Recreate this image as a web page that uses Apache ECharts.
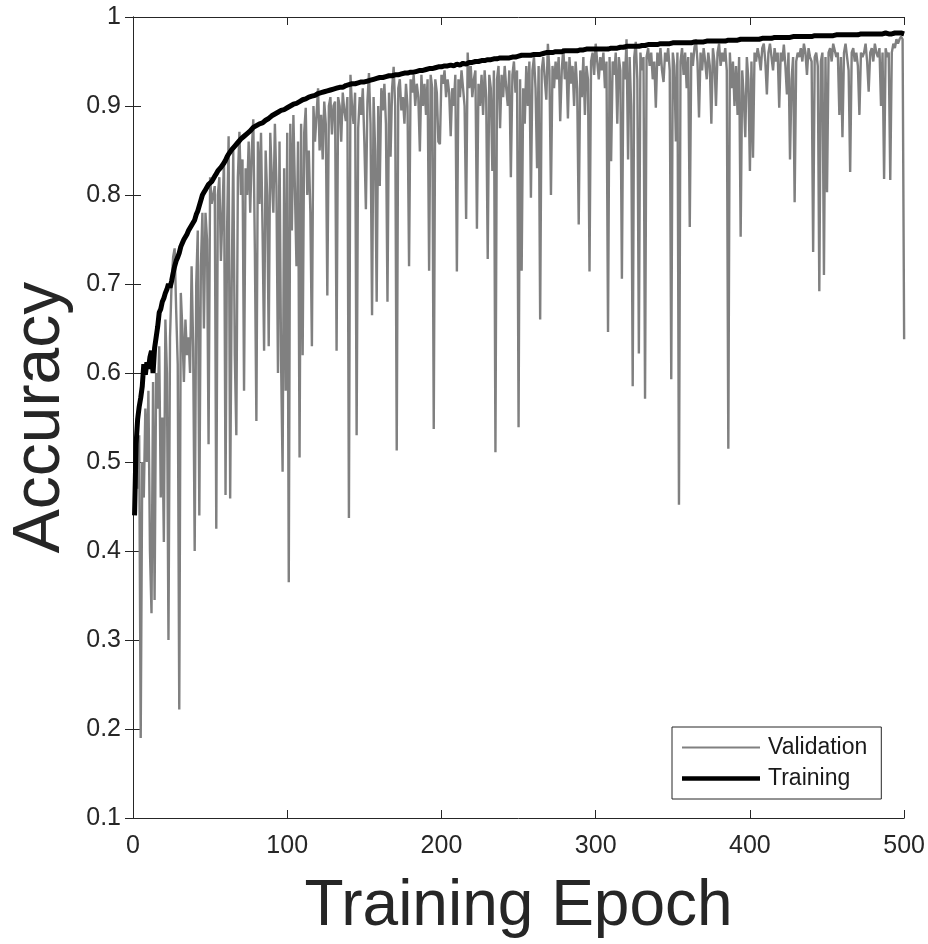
<!DOCTYPE html>
<html>
<head>
<meta charset="utf-8">
<script src="https://cdn.jsdelivr.net/npm/echarts@6/dist/echarts.min.js"></script>
<style>html,body{margin:0;padding:0;background:#fff;}#c{width:928px;height:944px;}</style>
</head>
<body>
<div id="c"></div>
<script>
// Tick labels
const xTicks = [0, 100, 200, 300, 400, 500];
const yTicks = [0.1, 0.2, 0.3, 0.4, 0.5, 0.6, 0.7, 0.8, 0.9, 1];
const seriesNames = ['Validation', 'Training'];

// Validation accuracy per epoch (1..500)
const validation = [
0.450,0.500,0.470,0.530,0.190,0.500,0.460,0.560,0.500,0.580,
0.400,0.330,0.590,0.345,0.600,0.560,0.630,0.460,0.550,0.410,
0.660,0.600,0.300,0.640,0.700,0.730,0.740,0.670,0.610,0.222,
0.690,0.650,0.590,0.660,0.620,0.640,0.600,0.720,0.630,0.400,
0.700,0.760,0.440,0.720,0.780,0.650,0.780,0.750,0.520,0.820,
0.790,0.800,0.810,0.425,0.800,0.820,0.726,0.780,0.840,0.463,
0.760,0.866,0.459,0.700,0.850,0.620,0.530,0.820,0.871,0.800,
0.840,0.580,0.830,0.800,0.860,0.780,0.850,0.885,0.740,0.546,
0.860,0.790,0.870,0.760,0.625,0.850,0.800,0.630,0.870,0.820,
0.780,0.880,0.810,0.600,0.860,0.614,0.489,0.830,0.580,0.870,
0.365,0.880,0.760,0.890,0.890,0.720,0.860,0.505,0.880,0.620,
0.870,0.898,0.800,0.850,0.780,0.630,0.900,0.860,0.890,0.920,
0.850,0.890,0.840,0.905,0.880,0.687,0.900,0.910,0.868,0.900,
0.905,0.625,0.910,0.900,0.860,0.915,0.895,0.883,0.910,0.437,
0.935,0.900,0.880,0.915,0.530,0.875,0.910,0.890,0.920,0.860,
0.784,0.905,0.937,0.880,0.665,0.910,0.850,0.680,0.900,0.810,
0.920,0.895,0.925,0.880,0.680,0.915,0.843,0.920,0.944,0.900,
0.513,0.920,0.930,0.895,0.910,0.880,0.925,0.900,0.720,0.930,
0.915,0.935,0.900,0.925,0.910,0.849,0.935,0.900,0.925,0.890,
0.930,0.715,0.935,0.920,0.537,0.930,0.915,0.860,0.857,0.935,
0.925,0.940,0.910,0.930,0.915,0.866,0.920,0.900,0.935,0.714,
0.930,0.910,0.940,0.920,0.900,0.773,0.960,0.920,0.945,0.910,
0.930,0.940,0.762,0.925,0.900,0.935,0.890,0.940,0.910,0.728,
0.935,0.920,0.827,0.940,0.511,0.930,0.945,0.875,0.935,0.910,
0.945,0.920,0.900,0.940,0.820,0.935,0.950,0.915,0.940,0.539,
0.930,0.715,0.920,0.880,0.945,0.900,0.950,0.797,0.940,0.955,
0.920,0.830,0.945,0.660,0.940,0.955,0.930,0.907,0.970,0.940,
0.800,0.945,0.920,0.950,0.930,0.955,0.883,0.940,0.965,0.930,
0.950,0.886,0.955,0.925,0.945,0.900,0.950,0.920,0.767,0.940,
0.910,0.955,0.890,0.945,0.930,0.714,0.950,0.960,0.935,0.970,
0.950,0.930,0.955,0.940,0.960,0.920,0.950,0.646,0.955,0.838,
0.950,0.935,0.960,0.880,0.955,0.940,0.706,0.950,0.930,0.975,
0.840,0.955,0.900,0.585,0.955,0.972,0.930,0.622,0.960,0.940,
0.955,0.571,0.955,0.965,0.945,0.960,0.930,0.950,0.898,0.960,
0.945,0.965,0.940,0.927,0.960,0.950,0.965,0.940,0.593,0.960,
0.945,0.860,0.960,0.452,0.950,0.965,0.935,0.960,0.920,0.955,
0.764,0.960,0.945,0.965,0.975,0.950,0.887,0.960,0.940,0.965,
0.950,0.930,0.960,0.945,0.880,0.965,0.950,0.900,0.960,0.970,
0.945,0.960,0.950,0.965,0.940,0.515,0.960,0.920,0.950,0.900,
0.945,0.890,0.955,0.753,0.940,0.910,0.865,0.955,0.930,0.827,
0.950,0.842,0.960,0.950,0.965,0.955,0.940,0.965,0.970,0.950,
0.913,0.960,0.970,0.955,0.940,0.965,0.950,0.960,0.898,0.960,
0.950,0.969,0.945,0.913,0.960,0.840,0.930,0.955,0.792,0.950,
0.960,0.955,0.965,0.950,0.970,0.960,0.935,0.965,0.955,0.950,
0.736,0.955,0.960,0.945,0.692,0.950,0.960,0.710,0.955,0.803,
0.960,0.965,0.950,0.970,0.970,0.955,0.960,0.890,0.955,0.865,
0.960,0.970,0.955,0.940,0.826,0.960,0.965,0.950,0.960,0.945,
0.890,0.960,0.955,0.960,0.970,0.950,0.916,0.960,0.965,0.950,
0.970,0.960,0.955,0.965,0.900,0.960,0.818,0.965,0.955,0.960,
0.817,0.960,0.970,0.965,0.975,0.970,0.975,0.978,0.975,0.638
];

// Training accuracy per epoch (1..500)
const training = [
0.440,0.520,0.548,0.562,0.572,0.585,0.610,0.598,0.612,0.605,
0.618,0.625,0.600,0.628,0.640,0.652,0.668,0.672,0.680,0.684,
0.690,0.694,0.700,0.696,0.703,0.712,0.720,0.726,0.730,0.735,
0.742,0.746,0.750,0.752,0.756,0.760,0.758,0.766,0.768,0.772,
0.778,0.782,0.788,0.794,0.800,0.803,0.806,0.809,0.812,0.814,
0.815,0.818,0.821,0.824,0.827,0.829,0.831,0.833,0.836,0.839,
0.843,0.846,0.848,0.851,0.853,0.855,0.857,0.859,0.861,0.863,
0.865,0.866,0.868,0.869,0.871,0.872,0.874,0.876,0.876,0.878,
0.879,0.880,0.880,0.881,0.883,0.884,0.885,0.886,0.888,0.889,
0.890,0.891,0.891,0.893,0.894,0.895,0.896,0.896,0.897,0.898,
0.899,0.900,0.901,0.902,0.902,0.903,0.904,0.905,0.906,0.907,
0.907,0.908,0.909,0.910,0.910,0.911,0.913,0.912,0.913,0.914,
0.914,0.915,0.915,0.916,0.916,0.917,0.917,0.918,0.919,0.919,
0.920,0.920,0.921,0.921,0.922,0.921,0.922,0.923,0.923,0.924,
0.924,0.925,0.924,0.925,0.926,0.926,0.926,0.927,0.927,0.927,
0.928,0.928,0.929,0.929,0.929,0.930,0.930,0.931,0.931,0.932,
0.932,0.932,0.933,0.933,0.933,0.934,0.933,0.934,0.934,0.935,
0.935,0.935,0.936,0.936,0.936,0.937,0.936,0.937,0.937,0.938,
0.938,0.938,0.939,0.939,0.939,0.940,0.940,0.940,0.941,0.941,
0.941,0.942,0.942,0.942,0.943,0.943,0.943,0.944,0.943,0.944,
0.944,0.945,0.944,0.945,0.945,0.946,0.946,0.945,0.946,0.947,
0.947,0.946,0.947,0.948,0.948,0.947,0.948,0.949,0.948,0.949,
0.949,0.950,0.949,0.950,0.950,0.951,0.950,0.951,0.951,0.952,
0.951,0.952,0.952,0.953,0.952,0.953,0.953,0.954,0.953,0.954,
0.954,0.954,0.955,0.954,0.955,0.955,0.956,0.955,0.956,0.956,
0.956,0.957,0.956,0.957,0.957,0.957,0.958,0.957,0.958,0.958,
0.958,0.958,0.959,0.958,0.959,0.959,0.959,0.960,0.959,0.960,
0.960,0.960,0.960,0.961,0.960,0.961,0.961,0.961,0.961,0.962,
0.961,0.962,0.962,0.962,0.962,0.962,0.963,0.962,0.963,0.963,
0.963,0.963,0.963,0.964,0.963,0.964,0.964,0.964,0.964,0.964,
0.963,0.964,0.963,0.964,0.964,0.964,0.965,0.964,0.965,0.965,
0.965,0.965,0.966,0.965,0.966,0.966,0.966,0.966,0.966,0.967,
0.966,0.967,0.967,0.967,0.967,0.967,0.968,0.967,0.968,0.968,
0.968,0.968,0.968,0.969,0.968,0.969,0.969,0.969,0.969,0.969,
0.969,0.970,0.969,0.970,0.970,0.970,0.970,0.970,0.970,0.971,
0.970,0.971,0.971,0.971,0.971,0.971,0.971,0.971,0.972,0.971,
0.972,0.971,0.972,0.972,0.972,0.972,0.972,0.972,0.972,0.972,
0.972,0.973,0.972,0.973,0.973,0.973,0.973,0.973,0.973,0.973,
0.973,0.973,0.974,0.973,0.974,0.974,0.974,0.974,0.974,0.974,
0.974,0.974,0.974,0.975,0.974,0.975,0.975,0.975,0.975,0.975,
0.975,0.975,0.975,0.975,0.976,0.975,0.976,0.976,0.976,0.976,
0.976,0.976,0.976,0.976,0.976,0.977,0.976,0.977,0.977,0.977,
0.977,0.977,0.977,0.977,0.977,0.977,0.977,0.978,0.977,0.978,
0.978,0.978,0.978,0.978,0.978,0.978,0.978,0.978,0.978,0.978,
0.978,0.979,0.978,0.979,0.979,0.979,0.979,0.979,0.979,0.979,
0.979,0.979,0.979,0.979,0.979,0.980,0.979,0.980,0.980,0.980,
0.980,0.980,0.980,0.980,0.980,0.980,0.980,0.980,0.980,0.980,
0.980,0.981,0.980,0.981,0.980,0.981,0.981,0.981,0.981,0.981,
0.981,0.981,0.981,0.981,0.981,0.981,0.981,0.982,0.981,0.981,
0.982,0.981,0.982,0.982,0.982,0.982,0.982,0.982,0.982,0.981
];

const FONT = '"Liberation Sans", Arial, Helvetica, sans-serif';
const AX = '#262626';
const VAL_COLOR = '#808080';
const TRN_COLOR = '#000000';

const chart = echarts.init(document.getElementById('c'), null, {renderer: 'canvas'});
const toPairs = arr => arr.map((v, i) => [i + 1, v]);

chart.setOption({
  animation: false,
  backgroundColor: '#ffffff',
  grid: {left: 132, right: 23, top: 17, bottom: 122, containLabel: false},
  legend: {
    data: [
      {name: seriesNames[0], icon: 'path://M0,0H78V2.2H0Z', itemStyle: {color: VAL_COLOR}},
      {name: seriesNames[1], icon: 'path://M0,0H78V4.6H0Z', itemStyle: {color: TRN_COLOR}}
    ],
    orient: 'vertical',
    left: 672, top: 727,
    padding: [7, 14, 7, 10],
    itemGap: 4,
    itemWidth: 78, itemHeight: 14,
    symbolKeepAspect: true,
    backgroundColor: '#ffffff',
    borderColor: AX, borderWidth: 1,
    textStyle: {fontFamily: FONT, fontSize: 23, lineHeight: 27, color: '#1a1a1a', padding: [0, 0, 0, 3]}
  },
  xAxis: [{
    type: 'value', min: xTicks[0], max: xTicks[xTicks.length - 1], interval: 100,
    name: 'Training Epoch', nameLocation: 'middle', nameGap: 57,
    nameTextStyle: {fontFamily: FONT, fontSize: 64, color: AX, verticalAlign: 'top'},
    axisLine: {show: true, lineStyle: {color: AX, width: 1}},
    axisTick: {show: true, inside: true, length: 8, lineStyle: {color: AX}},
    axisLabel: {fontFamily: FONT, fontSize: 25, color: AX, margin: 16},
    splitLine: {show: false}
  }, {
    type: 'value', position: 'top', min: xTicks[0], max: xTicks[xTicks.length - 1], interval: 100,
    axisLine: {show: true, lineStyle: {color: AX, width: 1}},
    axisTick: {show: true, inside: true, length: 8, lineStyle: {color: AX}},
    axisLabel: {show: false}, splitLine: {show: false}
  }],
  yAxis: [{
    type: 'value', min: yTicks[0], max: yTicks[yTicks.length - 1], interval: 0.1,
    name: 'Accuracy', nameLocation: 'middle', nameGap: 59, nameMoveOverlap: false,
    nameTextStyle: {fontFamily: FONT, fontSize: 66, color: AX},
    axisLine: {show: true, lineStyle: {color: AX, width: 1}},
    axisTick: {show: true, inside: true, length: 8, lineStyle: {color: AX}},
    axisLabel: {fontFamily: FONT, fontSize: 25, color: AX, margin: 12,
      formatter: v => String(+v.toFixed(1))},
    splitLine: {show: false}
  }, {
    type: 'value', position: 'right', min: yTicks[0], max: yTicks[yTicks.length - 1], interval: 0.1,
    axisLine: {show: true, lineStyle: {color: AX, width: 1}},
    axisTick: {show: true, inside: true, length: 8, lineStyle: {color: AX}},
    axisLabel: {show: false}, splitLine: {show: false}
  }],
  series: [{
    name: seriesNames[0], type: 'line', data: toPairs(validation),
    symbol: 'none', lineStyle: {color: VAL_COLOR, width: 2.4}, itemStyle: {color: VAL_COLOR},
    z: 2
  }, {
    name: seriesNames[1], type: 'line', data: toPairs(training),
    symbol: 'none', lineStyle: {color: TRN_COLOR, width: 5}, itemStyle: {color: TRN_COLOR},
    z: 3
  }]
});
</script>
</body>
</html>
